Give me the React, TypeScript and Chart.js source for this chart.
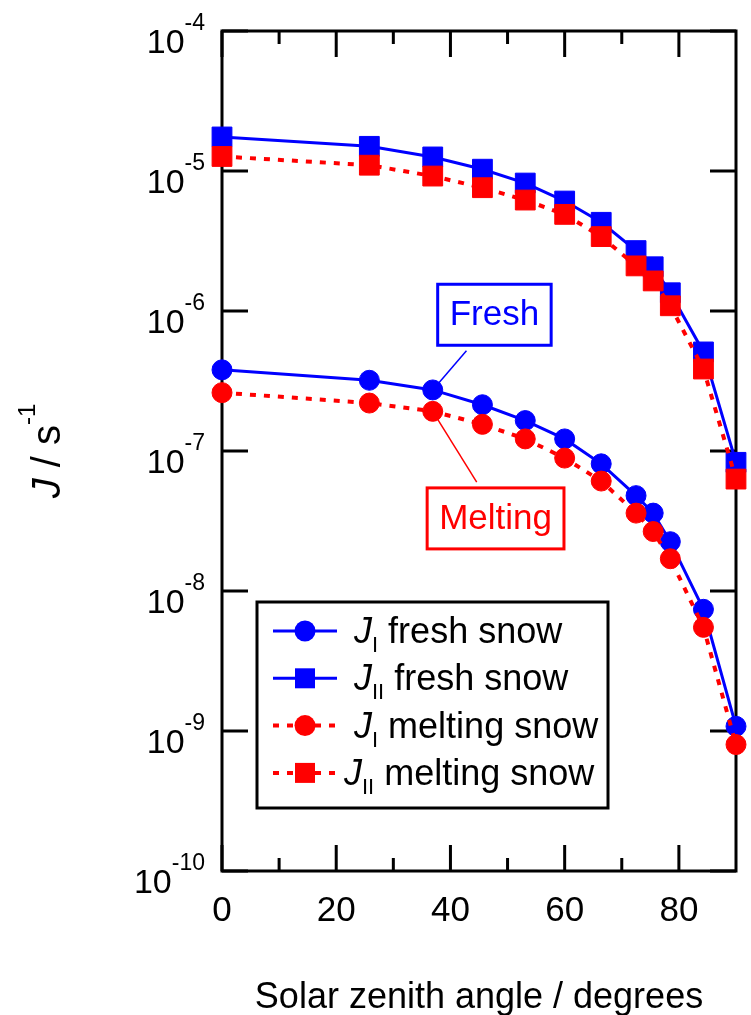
import { useEffect, useRef } from "react";
import { Chart, registerables } from "chart.js";

Chart.register(...registerables);

const FONT = '"Liberation Sans", Arial, Helvetica, sans-serif';
const BLUE = "#0000ff";
const RED = "#ff0000";

// Solar zenith angles (degrees)
const sza = [0, 25.8, 36.9, 45.6, 53.1, 60, 66.4, 72.5, 75.5, 78.5, 84.3, 90];

// Photolysis rate constants J (s^-1)
const jIFresh = [3.8e-7, 3.2e-7, 2.73e-7, 2.14e-7, 1.65e-7, 1.22e-7, 8.1e-8, 4.8e-8, 3.6e-8, 2.25e-8, 7.4e-9, 1.08e-9];
const jIIFresh = [1.75e-5, 1.5e-5, 1.26e-5, 1.03e-5, 8.2e-6, 6.1e-6, 4.3e-6, 2.7e-6, 2.07e-6, 1.35e-6, 5.1e-7, 8.3e-8];
const jIMelting = [2.61e-7, 2.2e-7, 1.92e-7, 1.55e-7, 1.22e-7, 8.9e-8, 6.1e-8, 3.6e-8, 2.66e-8, 1.7e-8, 5.5e-9, 8.0e-10];
const jIIMelting = [1.27e-5, 1.1e-5, 9.2e-6, 7.6e-6, 6.2e-6, 4.9e-6, 3.4e-6, 2.1e-6, 1.64e-6, 1.09e-6, 3.85e-7, 6.3e-8];

// Axis ticks
const yExponents = [-4, -5, -6, -7, -8, -9, -10];
const xMajorTicks = [0, 20, 40, 60, 80];
const xMinorTicks = [10, 30, 50, 70];

// Legend rows
const legendRows = [
  { sub: "I", rest: " fresh snow", color: BLUE, dashed: false, style: "circle", indent: 0 },
  { sub: "II", rest: " fresh snow", color: BLUE, dashed: false, style: "rect", indent: 0 },
  { sub: "I", rest: " melting snow", color: RED, dashed: true, style: "circle", indent: 0 },
  { sub: "II", rest: " melting snow", color: RED, dashed: true, style: "rect", indent: -10 },
];

// Callout labels (data coordinates)
const callouts = [
  { label: "Fresh", color: BLUE, cx: 47.7, cy: 9.4e-7, fromX: 42.8, fromY: 5.2e-7, toX: sza[2], toY: jIFresh[2] },
  { label: "Melting", color: RED, cx: 47.9, cy: 3.3e-8, fromX: 44.6, fromY: 6.0e-8, toX: sza[2], toY: jIMelting[2] },
];

type Run = { text: string; font: string; dy: number };

function runsWidth(ctx: CanvasRenderingContext2D, runs: Run[]) {
  let w = 0;
  for (const r of runs) {
    ctx.font = r.font;
    w += ctx.measureText(r.text).width;
  }
  return w;
}

function drawRuns(ctx: CanvasRenderingContext2D, x: number, y: number, runs: Run[]) {
  let cx = x;
  ctx.textAlign = "left";
  ctx.textBaseline = "alphabetic";
  for (const r of runs) {
    ctx.font = r.font;
    ctx.fillText(r.text, cx, y + r.dy);
    cx += ctx.measureText(r.text).width;
  }
}

const pts = (ys: number[]) => sza.map((x, i) => ({ x, y: ys[i] }));

const framePlugin = {
  id: "frameAndText",
  beforeDatasetsDraw(chart: any) {
    const { ctx, chartArea: a, scales } = chart;
    const xs = scales.x;
    const ys = scales.y;
    ctx.save();
    // leader lines for callouts
    for (const c of callouts) {
      ctx.strokeStyle = c.color;
      ctx.lineWidth = 1.5;
      ctx.beginPath();
      ctx.moveTo(xs.getPixelForValue(c.fromX), ys.getPixelForValue(c.fromY));
      ctx.lineTo(xs.getPixelForValue(c.toX), ys.getPixelForValue(c.toY));
      ctx.stroke();
    }
    // frame
    ctx.strokeStyle = "#000";
    ctx.lineWidth = 3;
    ctx.strokeRect(a.left, a.top, a.right - a.left, a.bottom - a.top);
    // inward ticks
    ctx.beginPath();
    for (const v of xMajorTicks) {
      const px = xs.getPixelForValue(v);
      ctx.moveTo(px, a.bottom);
      ctx.lineTo(px, a.bottom - 26);
      ctx.moveTo(px, a.top);
      ctx.lineTo(px, a.top + 26);
    }
    for (const v of xMinorTicks) {
      const px = xs.getPixelForValue(v);
      ctx.moveTo(px, a.bottom);
      ctx.lineTo(px, a.bottom - 13);
      ctx.moveTo(px, a.top);
      ctx.lineTo(px, a.top + 13);
    }
    for (const e of yExponents) {
      const py = ys.getPixelForValue(Math.pow(10, e));
      ctx.moveTo(a.left, py);
      ctx.lineTo(a.left + 26, py);
      ctx.moveTo(a.right, py);
      ctx.lineTo(a.right - 26, py);
    }
    ctx.stroke();

    // tick labels
    ctx.fillStyle = "#000";
    for (const e of yExponents) {
      const py = ys.getPixelForValue(Math.pow(10, e));
      const runs: Run[] = [
        { text: "10", font: `34px ${FONT}`, dy: 22 },
        { text: String(e), font: `23px ${FONT}`, dy: -1.5 },
      ];
      const w = runsWidth(ctx, runs);
      drawRuns(ctx, a.left - 17 - w, py, runs);
    }
    ctx.font = `35px ${FONT}`;
    ctx.textAlign = "center";
    ctx.textBaseline = "alphabetic";
    for (const v of xMajorTicks) {
      ctx.fillText(String(v), xs.getPixelForValue(v), a.bottom + 50);
    }
    // x title
    ctx.font = `36px ${FONT}`;
    ctx.fillText("Solar zenith angle / degrees", (a.left + a.right) / 2, a.bottom + 137);

    // y title (rotated)
    const yRuns: Run[] = [
      { text: "J", font: `italic 40px ${FONT}`, dy: 0 },
      { text: " / s", font: `40px ${FONT}`, dy: 0 },
      { text: "-1", font: `24px ${FONT}`, dy: -25 },
    ];
    const tw = runsWidth(ctx, yRuns);
    ctx.save();
    ctx.translate(60, (a.top + a.bottom) / 2);
    ctx.rotate(-Math.PI / 2);
    drawRuns(ctx, -tw / 2, 0, yRuns);
    ctx.restore();
    ctx.restore();
  },
  afterDatasetsDraw(chart: any) {
    const { ctx, chartArea: a, scales } = chart;
    const xs = scales.x;
    const ys = scales.y;
    ctx.save();
    // callout boxes
    for (const c of callouts) {
      ctx.font = `35px ${FONT}`;
      const tw = ctx.measureText(c.label).width;
      const bw = tw + 24;
      const bh = 61;
      const cx = xs.getPixelForValue(c.cx);
      const cy = ys.getPixelForValue(c.cy);
      ctx.fillStyle = "#fff";
      ctx.fillRect(cx - bw / 2, cy - bh / 2, bw, bh);
      ctx.strokeStyle = c.color;
      ctx.lineWidth = 3;
      ctx.strokeRect(cx - bw / 2, cy - bh / 2, bw, bh);
      ctx.fillStyle = c.color;
      ctx.textAlign = "center";
      ctx.textBaseline = "middle";
      ctx.fillText(c.label, cx, cy + 1);
    }

    // legend
    const lx = a.left + 35;
    const ly = a.top + 571;
    const lw = 351;
    const lh = 206;
    ctx.fillStyle = "#fff";
    ctx.fillRect(lx, ly, lw, lh);
    ctx.strokeStyle = "#000";
    ctx.lineWidth = 3;
    ctx.strokeRect(lx, ly, lw, lh);
    legendRows.forEach((r, i) => {
      const ry = ly + 29 + i * 47.3;
      ctx.strokeStyle = r.color;
      ctx.fillStyle = r.color;
      ctx.lineWidth = r.dashed ? 4 : 3;
      ctx.setLineDash(r.dashed ? [6, 8] : []);
      ctx.beginPath();
      ctx.moveTo(lx + 16, ry);
      ctx.lineTo(lx + 80, ry);
      ctx.stroke();
      ctx.setLineDash([]);
      ctx.beginPath();
      if (r.style === "circle") {
        ctx.arc(lx + 48, ry, 10.5, 0, Math.PI * 2);
      } else {
        ctx.rect(lx + 48 - 10, ry - 10, 20, 20);
      }
      ctx.fill();
      ctx.fillStyle = "#000";
      drawRuns(ctx, lx + 97 + r.indent, ry + 12, [
        { text: "J", font: `italic 36px ${FONT}`, dy: 0 },
        { text: r.sub, font: `22px ${FONT}`, dy: 9 },
        { text: r.rest, font: `36px ${FONT}`, dy: 0 },
      ]);
    });
    ctx.restore();
  },
};

export default function App() {
  const canvasRef = useRef<HTMLCanvasElement | null>(null);

  useEffect(() => {
    const canvas = canvasRef.current;
    if (!canvas) return;
    const solid = { borderWidth: 3, borderDash: [] as number[] };
    const dotted = { borderWidth: 4, borderDash: [6, 8] };
    const chart = new Chart(canvas, {
      type: "line",
      data: {
        datasets: [
          {
            label: "J_I melting snow",
            data: pts(jIMelting),
            borderColor: RED,
            backgroundColor: RED,
            pointStyle: "circle",
            pointRadius: 10,
            pointBorderWidth: 1,
            clip: false,
            ...dotted,
          },
          {
            label: "J_II melting snow",
            data: pts(jIIMelting),
            borderColor: RED,
            backgroundColor: RED,
            pointStyle: "rect",
            pointRadius: 14,
            pointBorderWidth: 1,
            clip: false,
            ...dotted,
          },
          {
            label: "J_I fresh snow",
            data: pts(jIFresh),
            borderColor: BLUE,
            backgroundColor: BLUE,
            pointStyle: "circle",
            pointRadius: 10,
            pointBorderWidth: 1,
            clip: false,
            ...solid,
          },
          {
            label: "J_II fresh snow",
            data: pts(jIIFresh),
            borderColor: BLUE,
            backgroundColor: BLUE,
            pointStyle: "rect",
            pointRadius: 14,
            pointBorderWidth: 1,
            clip: false,
            ...solid,
          },
        ],
      },
      options: {
        animation: false,
        responsive: false,
        maintainAspectRatio: false,
        layout: { padding: { left: 222, right: 14, top: 31, bottom: 144 } },
        scales: {
          x: { type: "linear", min: 0, max: 90, display: false },
          y: { type: "logarithmic", min: 1e-10, max: 1e-4, display: false },
        },
        plugins: { legend: { display: false }, tooltip: { enabled: false } },
      },
      plugins: [framePlugin],
    } as any);
    return () => chart.destroy();
  }, []);

  return (
    <div style={{ position: "absolute", left: 0, top: 0, width: 751, height: 1015, background: "#fff" }}>
      <canvas ref={canvasRef} width={751} height={1015} />
    </div>
  );
}
